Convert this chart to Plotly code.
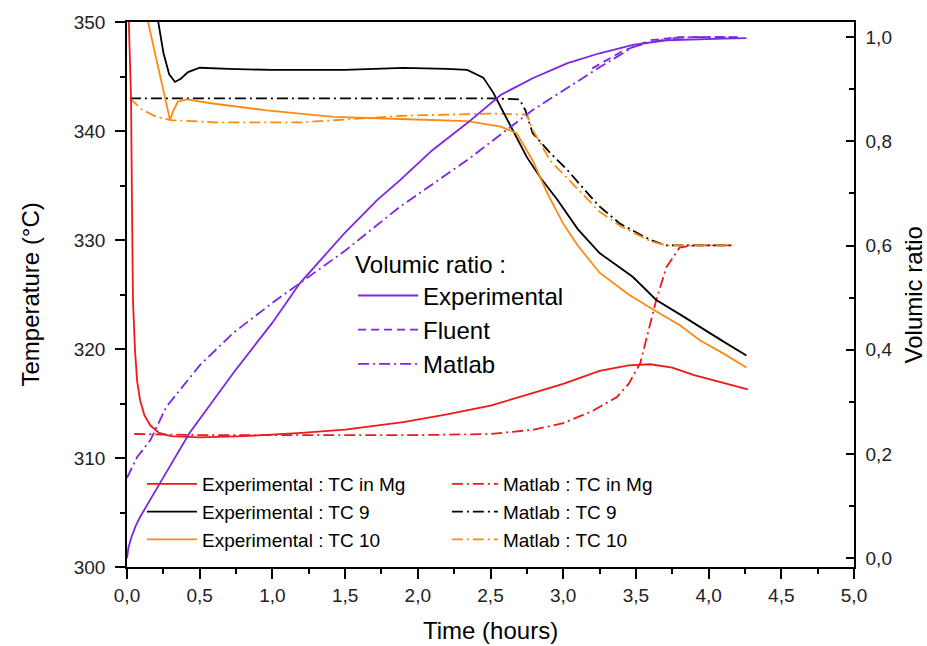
import plotly.graph_objects as go

# ---------------- data ----------------
# Experimental : TC in Mg  (temperature, °C)
t_mg_exp = [0.0, 0.01, 0.02, 0.028, 0.034, 0.041, 0.055, 0.07, 0.09, 0.12, 0.16, 0.22, 0.3,
            0.5, 0.8, 1.2, 1.5, 1.9, 2.2, 2.5, 2.8, 3.0, 3.25, 3.45, 3.6, 3.75, 3.9, 4.05, 4.27]
T_mg_exp = [356, 352, 347, 342.8, 333.7, 324.5, 319.9, 317.0, 315.3, 313.9, 313.0, 312.3, 312.0,
            311.9, 312.0, 312.3, 312.6, 313.3, 314.0, 314.8, 316.0, 316.8, 318.0, 318.5, 318.6,
            318.3, 317.6, 317.1, 316.3]

# Experimental : TC 9
t_tc9_exp = [0.19, 0.215, 0.25, 0.29, 0.33, 0.37, 0.42, 0.5, 0.7, 1.0, 1.5, 1.9, 2.2, 2.34,
             2.45, 2.52, 2.57, 2.63, 2.75, 2.85, 2.96, 3.1, 3.25, 3.48, 3.64, 3.8, 3.94, 4.1, 4.26]
T_tc9_exp = [353, 350, 347.2, 345.2, 344.5, 344.8, 345.4, 345.8, 345.7, 345.6, 345.6, 345.8,
             345.7, 345.6, 344.9, 343.5, 342.2, 340.7, 337.6, 335.6, 333.7, 331.0, 328.8, 326.6,
             324.5, 323.2, 322.0, 320.7, 319.4]

# Experimental : TC 10
t_tc10_exp = [0.13, 0.145, 0.2, 0.25, 0.296, 0.32, 0.35, 0.41, 0.6, 0.96, 1.42, 1.88, 2.34,
              2.57, 2.68, 2.79, 2.89, 3.0, 3.1, 3.25, 3.45, 3.62, 3.8, 3.94, 4.1, 4.26]
T_tc10_exp = [352, 350, 346.7, 343.7, 341.0, 341.9, 342.7, 342.9, 342.5, 341.9, 341.3, 341.1,
              340.9, 340.4, 339.8, 337.3, 334.3, 331.5, 329.5, 327.0, 325.0, 323.6, 322.2,
              320.8, 319.6, 318.3]

# Matlab : TC in Mg
t_mg_mat = [0.05, 0.5, 1.0, 1.5, 2.0, 2.5, 2.8, 3.0, 3.2, 3.37, 3.45, 3.53, 3.64, 3.71, 3.8,
            3.9, 4.17]
T_mg_mat = [312.2, 312.1, 312.1, 312.1, 312.1, 312.2, 312.6, 313.2, 314.3, 315.6, 316.8, 318.7,
            324.5, 327.5, 329.3, 329.5, 329.5]

# Matlab : TC 9
t_tc9_mat = [0.02, 0.5, 1.0, 1.5, 2.0, 2.5, 2.7, 2.74, 2.79, 2.91, 3.03, 3.24, 3.39, 3.6, 3.71,
             3.9, 4.17]
T_tc9_mat = [343.0, 343.0, 343.0, 343.0, 343.0, 343.0, 342.9, 341.9, 339.8, 338.0, 336.4, 333.2,
             331.5, 330.0, 329.5, 329.5, 329.5]

# Matlab : TC 10
t_tc10_mat = [0.02, 0.1, 0.2, 0.3, 0.6, 1.2, 1.9, 2.5, 2.75, 2.79, 2.91, 3.16, 3.25, 3.39, 3.6,
              3.71, 3.9, 4.17]
T_tc10_mat = [343.0, 342.0, 341.3, 341.0, 340.8, 340.8, 341.4, 341.6, 341.5, 340.1, 337.3, 333.9,
              332.6, 331.3, 329.9, 329.5, 329.5, 329.5]

# Volumic ratio : Experimental
t_vr_exp = [0.0, 0.01, 0.03, 0.06, 0.09, 0.15, 0.25, 0.43, 0.73, 1.0, 1.19, 1.5, 1.72, 1.88,
            2.1, 2.34, 2.57, 2.79, 3.03, 3.25, 3.48, 3.71, 3.9, 4.1, 4.26]
V_vr_exp = [0.0, 0.02, 0.040, 0.062, 0.079, 0.108, 0.155, 0.240, 0.355, 0.452, 0.528, 0.625,
            0.687, 0.726, 0.783, 0.835, 0.889, 0.921, 0.950, 0.969, 0.985, 0.994, 0.996, 0.997,
            0.998]

# Volumic ratio : Fluent
t_vr_flu = [3.2, 3.4, 3.6, 3.8, 4.0, 4.2]
V_vr_flu = [0.94, 0.972, 0.994, 1.0, 1.0, 1.0]

# Volumic ratio : Matlab
t_vr_mat = [0.0, 0.07, 0.16, 0.27, 0.5, 0.73, 1.0, 1.19, 1.5, 1.88, 2.34, 2.79, 3.25, 3.48, 3.6,
            3.75, 3.9, 4.2]
V_vr_mat = [0.154, 0.194, 0.226, 0.29, 0.37, 0.432, 0.49, 0.528, 0.59, 0.675, 0.764, 0.86,
            0.942, 0.981, 0.99, 0.998, 1.0, 1.0]

# ---------------- styling ----------------
RED = "#F01818"
BLACK = "#000000"
ORANGE = "#FF8A10"
PURPLE = "#7A26E4"
DASHDOT = "11px,4px,2px,4px"
DASH = "8px,5px"
FONT = "Liberation Sans, Arial, sans-serif"

fig = go.Figure()


def add(t, y, name, color, dash, legend, yaxis="y", width=1.8):
    fig.add_trace(go.Scatter(x=t, y=y, mode="lines", name=name, yaxis=yaxis,
                             legend=legend,
                             line=dict(color=color, dash=dash, width=width)))


# volumic ratio (right axis)
add(t_vr_exp, V_vr_exp, "Experimental", PURPLE, "solid", "legend", "y2")
add(t_vr_flu, V_vr_flu, "Fluent", PURPLE, DASH, "legend", "y2")
add(t_vr_mat, V_vr_mat, "Matlab", PURPLE, DASHDOT, "legend", "y2")

# matlab temperatures
add(t_mg_mat, T_mg_mat, "Matlab : TC in Mg", RED, DASHDOT, "legend3")
add(t_tc9_mat, T_tc9_mat, "Matlab : TC 9", BLACK, DASHDOT, "legend3")
add(t_tc10_mat, T_tc10_mat, "Matlab : TC 10", ORANGE, DASHDOT, "legend3")

# experimental temperatures
add(t_mg_exp, T_mg_exp, "Experimental : TC in Mg", RED, "solid", "legend2")
add(t_tc9_exp, T_tc9_exp, "Experimental : TC 9", BLACK, "solid", "legend2")
add(t_tc10_exp, T_tc10_exp, "Experimental : TC 10", ORANGE, "solid", "legend2")

axis_common = dict(showgrid=False, zeroline=False, showline=True, linecolor="black",
                   linewidth=1.5, tickcolor="black", tickwidth=1.5, automargin=False,
                   tickfont=dict(size=19, family=FONT, color="#222"))

title_font = dict(size=24, family=FONT, color="black")

fig.update_layout(
    width=927, height=646,
    margin=dict(l=127, r=73, t=22, b=79),
    plot_bgcolor="white", paper_bgcolor="white",
    separators=",.",
    font=dict(family=FONT, size=19, color="black"),
    showlegend=True,
    xaxis=dict(range=[0, 5], tick0=0, dtick=0.5, tickformat=".1f", ticks="outside",
               ticklen=10, mirror=True,
               minor=dict(dtick=0.25, ticks="outside", ticklen=5, tickwidth=1.5,
                          tickcolor="black"),
               **axis_common),
    yaxis=dict(range=[300, 350], tick0=300, dtick=10, ticks="outside", ticklen=10,
               minor=dict(dtick=5, ticks="outside", ticklen=5, tickwidth=1.5,
                          tickcolor="black"),
               ticklabelstandoff=6,
               **axis_common),
    yaxis2=dict(overlaying="y", side="right", range=[-0.017, 1.029], tick0=0, dtick=0.2,
                tickformat=".1f", ticks="inside", ticklen=8,
                minor=dict(dtick=0.1, ticks="inside", ticklen=5, tickwidth=1.5,
                           tickcolor="black"),
                ticklabelstandoff=6,
                **axis_common),
    annotations=[
        dict(text="Time (hours)", xref="paper", yref="paper", x=0.5, y=-0.1174,
             xanchor="center", yanchor="middle", showarrow=False, font=title_font),
        dict(text="Temperature (°C)", xref="paper", yref="paper", x=-0.1334, y=0.5,
             xanchor="center", yanchor="middle", textangle=-90, showarrow=False,
             font=title_font),
        dict(text="Volumic ratio", xref="paper", yref="paper", x=1.0825, y=0.5,
             xanchor="center", yanchor="middle", textangle=-90, showarrow=False,
             font=title_font),
    ],
    legend=dict(x=0.311, y=0.596, xanchor="left", yanchor="top", bgcolor="rgba(0,0,0,0)",
                font=dict(size=24, family=FONT), itemwidth=60,
                title=dict(text="Volumic ratio :", font=dict(size=24, family=FONT))),
    legend2=dict(x=0.0206, y=0.187, xanchor="left", yanchor="top", bgcolor="rgba(0,0,0,0)",
                 font=dict(size=19, family=FONT), itemwidth=50),
    legend3=dict(x=0.44, y=0.187, xanchor="left", yanchor="top", bgcolor="rgba(0,0,0,0)",
                 font=dict(size=19, family=FONT), itemwidth=46),
)

# remove the default 8px page margin so the 927x646 figure fills the window exactly
fig.write_html("out.html",
               config={"displayModeBar": False},
               post_script="document.body.style.margin='0';"
                           "document.body.style.overflow='hidden';")
